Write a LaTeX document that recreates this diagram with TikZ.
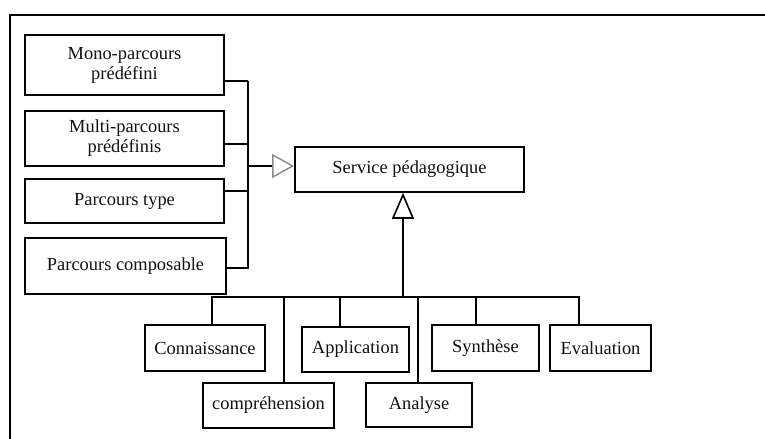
\documentclass[tikz,border=0pt]{standalone}
\usepackage{fontspec}
\setmainfont{Liberation Serif}
\usepackage{tikz}
\usetikzlibrary{arrows.meta,positioning,calc}
\definecolor{textc}{HTML}{111111}
\definecolor{greytip}{HTML}{8A8A8A}
\tikzset{
  box/.style={draw=black, fill=white, line width=1.7bp, inner sep=2pt,
              align=center, text=textc, font=\fontsize{18.5}{20}\selectfont},
  link/.style={draw=black, line width=1.7bp},
  inherit/.style={link, -{Triangle[open, length=26bp, width=22bp, line width=1.6bp]}},
  realise/.style={link, -{Triangle[open, length=22bp, width=24bp, line width=1.4bp, color=greytip]}}
}

\begin{document}
\begin{tikzpicture}[x=1bp,y=-1bp]
        \useasboundingbox (0,0) rectangle (765,439);
        \draw[line width=2bp] (10,439) -- (10,15) -- (765,15);
        % left column
        \node[box,minimum width=199bp,minimum height=60bp] (mono) at (124.5,65) {Mono-parcours\\prédéfini};
        \node[box,minimum width=199bp,minimum height=55bp] (multi) at (124.5,138.5) {Multi-parcours\\prédéfinis};
        \node[box,minimum width=199bp,minimum height=44bp] (ptype) at (124.5,201) {Parcours type};
        \node[box,minimum width=201bp,minimum height=56bp] (compos) at (125.5,266) {Parcours composable};
        \node[box,minimum width=229bp,minimum height=45bp] (service) at (409.5,169.5) {Service pédagogique};
        % bottom row
        \node[box,minimum width=120bp,minimum height=46bp] (conn) at (205,348) {Connaissance};
        \node[box,minimum width=131bp,minimum height=45bp] (compr) at (268.5,405.5) {compréhension};
        \node[box,minimum width=107bp,minimum height=45bp] (appl) at (355.5,349.5) {Application};
        \node[box,minimum width=106bp,minimum height=44bp] (anal) at (419,405) {Analyse};
        \node[box,minimum width=107bp,minimum height=46bp] (synth) at (485.5,348) {Synthèse};
        \node[box,minimum width=101bp,minimum height=46bp] (eval) at (600.5,348) {Evaluation};
        % bracket to service
        \coordinate (brtop) at (248,81);
        \coordinate (brbot) at (248,268);
        \coordinate (junc) at (248,166);
        \draw[link] ([yshift=-16bp]mono.east) -| (brtop) -- (brbot) |- ([yshift=-2bp]compos.east);
        \draw[link] ([yshift=-5.5bp]multi.east) -| (junc);
        \draw[link] ([yshift=10bp]ptype.east) -| (junc);
        \draw[realise] (junc) -- (service.west |- junc);
        % bus to service
        \coordinate (hub) at (403,297);
        \draw[inherit] (hub) -- (service.south -| hub);
        \draw[link] ([xshift=7bp]conn.north) |- (hub);
        \draw[link] ([xshift=15.5bp]compr.north) |- (hub);
        \draw[link] ([xshift=-15.5bp]appl.north) |- (hub);
        \draw[link] ([xshift=-1bp]anal.north) |- (hub);
        \draw[link] ([xshift=-9.5bp]synth.north) |- (hub);
        \draw[link] ([xshift=-21.5bp]eval.north) |- (hub);
\end{tikzpicture}
\end{document}
